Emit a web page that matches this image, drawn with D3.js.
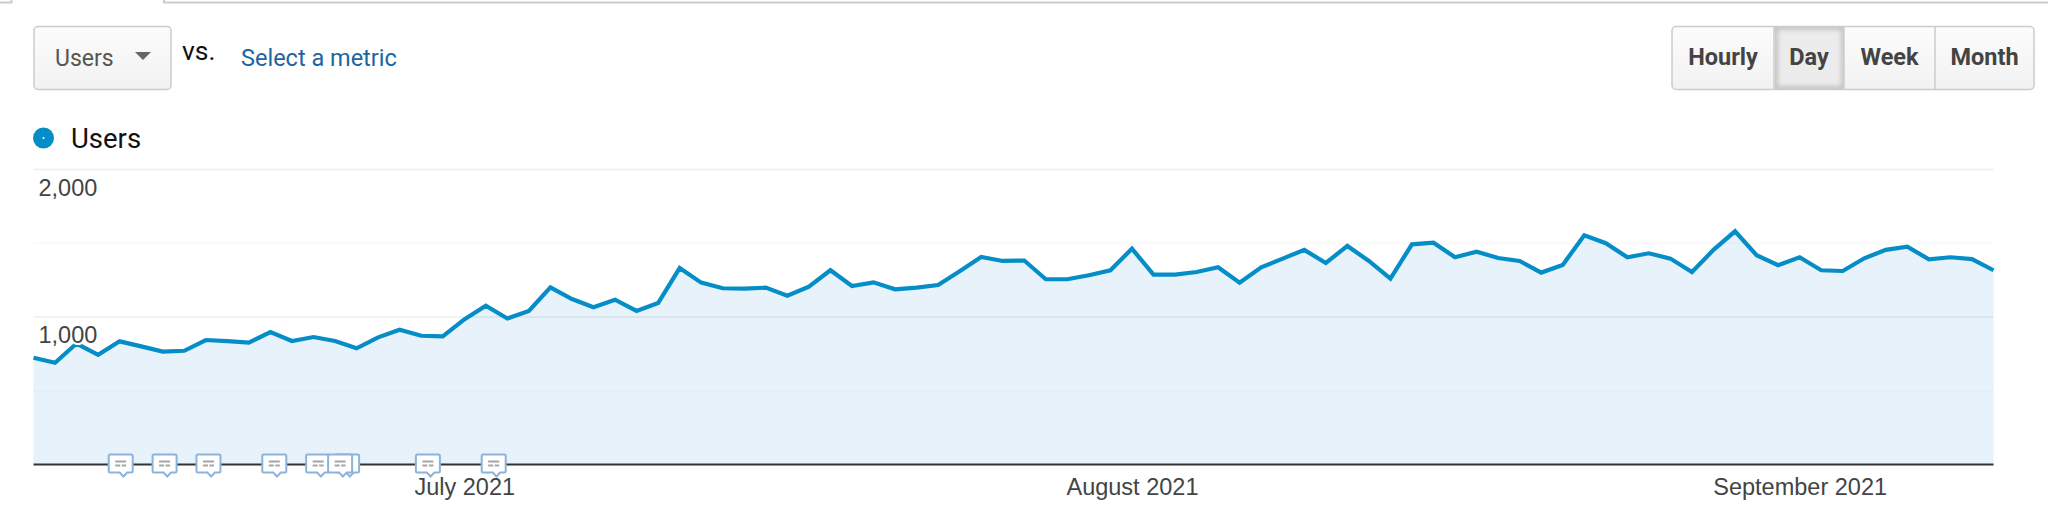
<!DOCTYPE html>
<html><head><meta charset="utf-8">
<script src="https://cdn.jsdelivr.net/npm/d3@7/dist/d3.min.js"></script>
<style>
html,body{margin:0;padding:0;background:#fff;width:2048px;height:505px;overflow:hidden}
svg{display:block}
text{font-family:Roboto,sans-serif}
.axis text{font-family:"Liberation Sans",Arial,sans-serif;font-size:23.5px;fill:#444}
.axis path,.axis line{display:none}
</style></head><body>
<svg id="c" width="2048" height="505"></svg>
<script>
const startDate = "2021-06-11";
const users = [724,690,820,744,835,801,765,771,844,837,826,898,837,864,837,788,862,914,873,869,
984,1077,990,1041,1201,1122,1066,1117,1041,1095,1332,1233,1195,1192,1199,1144,1206,1317,1210,1235,
1188,1199,1217,1310,1407,1380,1383,1256,1256,1283,1317,1463,1287,1287,1305,1337,1233,1337,1396,1455,
1366,1482,1380,1260,1493,1504,1405,1443,1400,1380,1301,1353,1554,1500,1405,1432,1396,1305,1455,1581,
1419,1351,1405,1317,1312,1398,1455,1477,1391,1405,1393,1317];
const yTickLabels = [1000, 2000];
const yGrid = [500, 1000, 1500, 2000];
const monthTicks = ["2021-07-01", "2021-08-01", "2021-09-01"];
const annotationDates = ["2021-06-15","2021-06-17","2021-06-19","2021-06-22","2021-06-24","2021-06-25","2021-06-25","2021-06-29","2021-07-02"];
const granularity = ["Hourly","Day","Week","Month"];
const activeGranularity = "Day";
const metric = "Users";

const parse = d3.utcParse("%Y-%m-%d");
const start = parse(startDate);
const days = users.map((v,i)=>({date:d3.utcDay.offset(start,i),v}));
const L=33.5,R=1993.5,T=169.5,B=464.5;
const x = d3.scaleUtc().domain(d3.extent(days,d=>d.date)).range([L,R]);
const y = d3.scaleLinear().domain([0,2000]).range([B,T]);
// annotation flags sit on their own slightly wider day spacing in the source chart
const xFlag = d3.scaleUtc().domain([parse("2021-06-15"),parse("2021-07-02")]).range([120.7,493.7]);
const svg = d3.select("#c");
const defs = svg.append("defs");
const g1 = defs.append("linearGradient").attr("id","btn").attr("x1",0).attr("x2",0).attr("y1",0).attr("y2",1);
g1.append("stop").attr("offset","0").attr("stop-color","#fcfcfc");
g1.append("stop").attr("offset","1").attr("stop-color","#f2f2f2");
defs.append("filter").attr("id","blur").append("feGaussianBlur").attr("stdDeviation",2.5);
defs.append("clipPath").attr("id","dayclip").append("rect").attr("x",1775).attr("y",27).attr("width",69).attr("height",62);

// top tab strip
svg.append("path").attr("d","M0 2.5H11.5V0").attr("fill","none").attr("stroke","#ccc").attr("stroke-width",2);
svg.append("path").attr("d","M164 0V2.5H2048").attr("fill","none").attr("stroke","#ccc").attr("stroke-width",2);

// metric selector
svg.append("rect").attr("x",34).attr("y",26.5).attr("width",137).attr("height",63).attr("rx",4).attr("fill","url(#btn)").attr("stroke","#ccc").attr("stroke-width",1.5);
svg.append("text").attr("x",55).attr("y",65.5).attr("font-size",23).attr("fill","#555").text(metric);
svg.append("path").attr("d","M135 52H151L143 60Z").attr("fill","#666");
svg.append("text").attr("x",182).attr("y",60).attr("font-size",26.5).attr("fill","#111").text("vs.");
svg.append("text").attr("x",241).attr("y",65.5).attr("font-size",23.5).attr("fill","#1c65a3").text("Select a metric");

// granularity buttons
const bx=[1672,1774,1844,1935,2034];
svg.append("rect").attr("x",bx[0]).attr("y",26.5).attr("width",bx[4]-bx[0]).attr("height",63).attr("rx",4).attr("fill","url(#btn)").attr("stroke","#ccc").attr("stroke-width",1.5);
const ai = granularity.indexOf(activeGranularity);
svg.append("rect").attr("x",bx[ai]).attr("y",27).attr("width",bx[ai+1]-bx[ai]).attr("height",62).attr("fill","#ececec");
svg.append("g").attr("clip-path","url(#dayclip)").append("rect")
  .attr("x",bx[ai]+1).attr("y",27).attr("width",bx[ai+1]-bx[ai]-1).attr("height",62)
  .attr("fill","none").attr("stroke","#bdbdbd").attr("stroke-width",5).attr("filter","url(#blur)");
granularity.forEach((d,i)=>{
  if(i>0) svg.append("line").attr("x1",bx[i]).attr("x2",bx[i]).attr("y1",27).attr("y2",89).attr("stroke","#ccc").attr("stroke-width",1.5);
  svg.append("text").attr("x",(bx[i]+bx[i+1])/2).attr("y",65).attr("text-anchor","middle").attr("font-size",23.5).attr("font-weight",700).attr("fill","#444").text(d);
});

// legend
svg.append("circle").attr("cx",43.5).attr("cy",138).attr("r",10.5).attr("fill","#058dc7");
svg.append("circle").attr("cx",43.5).attr("cy",138).attr("r",1).attr("fill","#fff");
svg.append("text").attr("x",71).attr("y",148).attr("font-size",27.5).attr("fill","#111").text(metric);

// area, grid, line
svg.append("path").datum(days).attr("fill","#e7f2fb")
  .attr("d",d3.area().x(d=>x(d.date)).y0(y(0)).y1(d=>y(d.v)));
svg.append("g").selectAll("line").data(yGrid).join("line")
  .attr("x1",L).attr("x2",R).attr("y1",d=>y(d)).attr("y2",d=>y(d))
  .attr("stroke","#000").attr("stroke-opacity",d=>yTickLabels.includes(d)?.07:.025).attr("stroke-width",1.5);
svg.append("path").datum(days).attr("fill","none").attr("stroke","#058dc7").attr("stroke-width",4.2).attr("stroke-linejoin","miter")
  .attr("d",d3.line().x(d=>x(d.date)).y(d=>y(d.v)));
svg.append("line").attr("x1",L).attr("x2",R).attr("y1",B).attr("y2",B).attr("stroke","#333").attr("stroke-width",1.8);

// axes
const yAxis = svg.append("g").attr("class","axis").attr("transform",`translate(${L+5},0)`)
  .call(d3.axisRight(y).tickValues(yTickLabels).tickFormat(d3.format(",")).tickSize(0).tickPadding(0));
yAxis.selectAll("text").attr("dy",null).attr("y",25.5)
  .attr("stroke","#fff").attr("stroke-width",4).attr("paint-order","stroke");
const xAxis = svg.append("g").attr("class","axis").attr("transform",`translate(0,${B})`)
  .call(d3.axisBottom(x).tickValues(monthTicks.map(parse)).tickFormat(d3.utcFormat("%B %Y")).tickSize(0).tickPadding(0));
xAxis.selectAll("text").attr("dy",null).attr("y",30.5);

// annotations
const seen = {};
const ann = svg.append("g").selectAll("g").data(annotationDates.map(parse).map(d=>{
  const k=+d; seen[k]=(seen[k]||0)+1; return {date:d,stack:seen[k]-1};
}).sort((a,b)=>b.stack-a.stack)).join("g")
  .attr("transform",d=>`translate(${xFlag(d.date)+d.stack*7},${B})`);
ann.append("path").attr("d","M-12 -8.5Q-12 -10 -10.5 -10H10.5Q12 -10 12 -8.5V6.5Q12 8 10.5 8H6.5L2.7 12L-1 8H-10.5Q-12 8 -12 6.5Z")
  .attr("fill","#fff").attr("stroke","#8cb3d9").attr("stroke-width",2);
ann.append("path").attr("d","M-5.5 -3H5.5M-5.5 1H-0.5M1 1H5.5").attr("stroke","#a6a6a6").attr("stroke-width",2).attr("fill","none");
</script>
</body></html>
